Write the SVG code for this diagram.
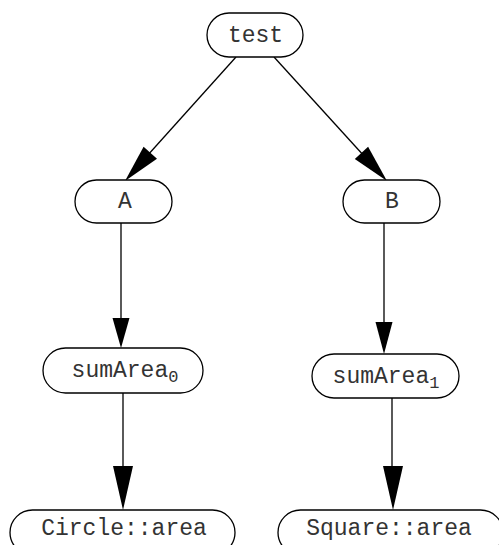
<svg xmlns="http://www.w3.org/2000/svg" width="499" height="545" viewBox="0 0 499 545">
<style>
.n{fill:#fff;stroke:#000;stroke-width:1.3}
.t{font-family:"Liberation Mono","DejaVu Sans Mono",monospace;font-size:23px;fill:#333;text-anchor:middle}
.s{font-size:17px}
.e{stroke:#000;stroke-width:1.3;fill:none}
.h{fill:#000;stroke:none}
</style>
<rect width="499" height="545" fill="#fff"/>
<g id="edges">
<line class="e" x1="236" y1="57" x2="147" y2="156"/>
<polygon class="h" points="125,181 157.0,158.7 143.6,146.7"/>
<line class="e" x1="274" y1="57" x2="365" y2="157"/>
<polygon class="h" points="387,181 368.1,146.8 354.8,159.0"/>
<line class="e" x1="121" y1="223" x2="121" y2="320"/>
<polygon class="h" points="121,348 112.5,318 129.5,318"/>
<line class="e" x1="384" y1="223" x2="384" y2="324"/>
<polygon class="h" points="384,354 375.5,322 392.5,322"/>
<line class="e" x1="123" y1="393" x2="123" y2="470"/>
<polygon class="h" points="123,510 113,466 133,466"/>
<line class="e" x1="392" y1="398" x2="392" y2="470"/>
<polygon class="h" points="393,510 383,466 403,466"/>
</g>
<g id="test"><rect class="n" x="207" y="13" width="96" height="44" rx="22"/><text class="t" x="255.5" y="42">test</text></g>
<g id="A"><rect class="n" x="75" y="180" width="97" height="43" rx="21.5"/><text class="t" x="125" y="208">A</text></g>
<g id="B"><rect class="n" x="343" y="180" width="97" height="43" rx="21.5"/><text class="t" x="392" y="208">B</text></g>
<g id="sumArea0"><rect class="n" x="43" y="348" width="160" height="45" rx="22.5"/><text class="t" x="125" y="377">sumArea<tspan class="s" dy="5">0</tspan></text></g>
<g id="sumArea1"><rect class="n" x="312" y="354" width="147" height="44" rx="22"/><text class="t" x="386" y="383">sumArea<tspan class="s" dy="5">1</tspan></text></g>
<g id="circle"><rect class="n" x="10" y="510" width="225" height="45" rx="22.5"/><text class="t" x="124" y="535">Circle::area</text></g>
<g id="square"><rect class="n" x="278" y="510" width="225" height="45" rx="22.5"/><text class="t" x="389" y="535">Square::area</text></g>
</svg>
